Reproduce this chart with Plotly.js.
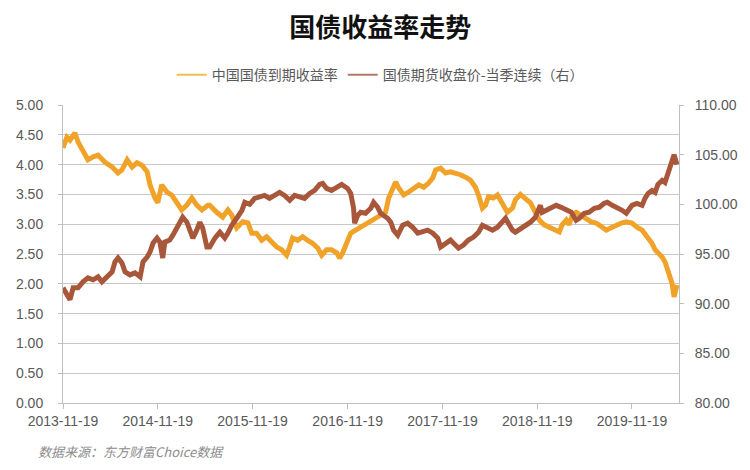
<!DOCTYPE html>
<html>
<head>
<meta charset="utf-8">
<script src="https://cdn.plot.ly/plotly-3.0.1.min.js"></script>
<style>html,body{margin:0;padding:0;background:#fff;}#chart{width:750px;height:470px;}</style>
</head>
<body>
<div id="chart"></div>
<script>
// 中国国债到期收益率 (left axis, %)
const yieldDates = ['2013-11-19','2013-12-04','2013-12-16','2014-01-04','2014-01-16','2014-02-04','2014-02-23','2014-03-15','2014-04-03','2014-04-30','2014-05-27','2014-06-19','2014-07-04','2014-07-24','2014-08-12','2014-08-31','2014-09-19','2014-10-09','2014-10-20','2014-11-08','2014-11-19','2014-12-04','2014-12-24','2015-01-12','2015-01-31','2015-02-19','2015-03-11','2015-03-30','2015-04-18','2015-05-08','2015-05-31','2015-06-07','2015-07-04','2015-07-27','2015-08-16','2015-08-31','2015-09-19','2015-10-01','2015-10-12','2015-11-01','2015-11-16','2015-12-04','2015-12-24','2016-01-12','2016-01-31','2016-02-19','2016-03-10','2016-03-29','2016-04-10','2016-04-21','2016-05-10','2016-05-30','2016-06-18','2016-07-07','2016-07-27','2016-08-11','2016-08-30','2016-09-18','2016-10-08','2016-10-19','2016-10-31','2016-11-19','2016-12-01','2016-12-20','2017-01-08','2017-01-27','2017-02-16','2017-03-07','2017-03-26','2017-04-14','2017-04-26','2017-05-11','2017-05-23','2017-06-03','2017-06-23','2017-07-12','2017-07-31','2017-08-20','2017-09-08','2017-09-27','2017-10-13','2017-10-24','2017-11-12','2017-12-01','2017-12-20','2018-01-08','2018-01-27','2018-02-16','2018-03-07','2018-03-26','2018-04-07','2018-04-22','2018-05-04','2018-05-15','2018-06-03','2018-06-19','2018-06-30','2018-07-12','2018-07-27','2018-08-16','2018-08-27','2018-09-15','2018-10-05','2018-10-24','2018-11-12','2018-11-27','2018-12-16','2019-01-04','2019-01-23','2019-02-12','2019-02-23','2019-03-11','2019-03-22','2019-04-03','2019-04-18','2019-05-08','2019-05-27','2019-06-15','2019-07-04','2019-07-24','2019-08-12','2019-08-31','2019-09-19','2019-10-09','2019-10-28','2019-11-19','2019-12-08','2019-12-28','2020-01-16','2020-02-04','2020-02-16','2020-02-27','2020-03-14','2020-03-25','2020-04-06','2020-04-21','2020-04-29','2020-05-07','2020-05-10'];
const yieldValues = [4.28,4.46,4.41,4.53,4.38,4.21,4.08,4.13,4.16,4.04,3.96,3.86,3.91,4.08,3.96,4.03,3.99,3.88,3.66,3.44,3.36,3.66,3.54,3.49,3.36,3.24,3.32,3.44,3.32,3.24,3.32,3.32,3.20,3.12,3.24,3.15,2.94,2.99,3.04,3.02,2.85,2.85,2.73,2.79,2.70,2.62,2.57,2.48,2.62,2.77,2.73,2.79,2.73,2.68,2.60,2.48,2.57,2.57,2.52,2.43,2.52,2.73,2.85,2.90,2.95,2.99,3.03,3.10,3.15,3.20,3.44,3.62,3.71,3.61,3.49,3.54,3.61,3.66,3.62,3.69,3.78,3.91,3.94,3.86,3.88,3.86,3.83,3.79,3.74,3.62,3.49,3.27,3.32,3.46,3.44,3.49,3.41,3.29,3.20,3.27,3.41,3.50,3.44,3.36,3.20,3.07,2.99,2.95,2.90,2.87,2.99,3.07,2.99,3.15,3.20,3.15,3.10,3.04,3.02,2.95,2.90,2.94,2.99,3.02,3.04,3.02,2.95,2.90,2.79,2.68,2.57,2.53,2.45,2.37,2.20,2.01,1.78,1.90,1.98];

// 国债期货收盘价-当季连续 (right axis)
const futDates = ['2013-11-19','2013-12-04','2013-12-16','2013-12-28','2014-01-16','2014-02-04','2014-02-23','2014-03-15','2014-04-03','2014-04-18','2014-05-08','2014-05-27','2014-06-07','2014-06-19','2014-07-04','2014-07-16','2014-08-04','2014-08-23','2014-09-12','2014-09-23','2014-10-09','2014-10-20','2014-11-01','2014-11-16','2014-11-27','2014-12-08','2014-12-16','2015-01-04','2015-01-16','2015-01-31','2015-02-12','2015-02-23','2015-03-11','2015-03-22','2015-04-03','2015-04-18','2015-04-30','2015-05-11','2015-05-27','2015-06-07','2015-06-27','2015-07-16','2015-08-04','2015-08-16','2015-08-31','2015-09-19','2015-10-09','2015-10-20','2015-11-08','2015-11-27','2015-12-16','2016-01-04','2016-01-23','2016-02-12','2016-03-02','2016-03-21','2016-04-10','2016-04-29','2016-05-18','2016-06-06','2016-06-26','2016-07-15','2016-08-03','2016-08-15','2016-08-30','2016-09-18','2016-10-08','2016-10-27','2016-11-19','2016-12-01','2016-12-12','2016-12-16','2016-12-28','2017-01-08','2017-01-27','2017-02-16','2017-02-27','2017-03-15','2017-03-26','2017-04-07','2017-04-22','2017-05-04','2017-05-15','2017-05-31','2017-06-19','2017-07-08','2017-07-27','2017-08-16','2017-09-04','2017-09-23','2017-10-13','2017-11-01','2017-11-12','2017-12-01','2017-12-20','2017-12-31','2018-01-20','2018-02-08','2018-02-27','2018-03-19','2018-04-07','2018-04-22','2018-05-11','2018-05-31','2018-06-19','2018-07-08','2018-07-20','2018-07-31','2018-08-16','2018-08-27','2018-09-15','2018-10-05','2018-10-24','2018-11-12','2018-11-19','2018-12-01','2018-12-08','2018-12-24','2019-01-12','2019-01-31','2019-02-19','2019-03-11','2019-03-30','2019-04-18','2019-04-30','2019-05-19','2019-06-07','2019-06-27','2019-07-16','2019-08-04','2019-08-16','2019-09-04','2019-09-23','2019-10-12','2019-10-28','2019-11-19','2019-12-08','2019-12-28','2020-01-08','2020-01-20','2020-02-04','2020-02-16','2020-02-27','2020-03-14','2020-03-25','2020-04-06','2020-04-21','2020-04-29','2020-05-10'];
const futValues = [91.6,90.9,90.4,91.6,91.6,92.2,92.6,92.4,92.7,92.2,92.7,93.2,94.2,94.6,94.1,93.2,92.9,93.1,92.7,94.2,94.7,95.2,96.1,96.6,96.2,94.6,96.2,96.4,96.9,97.6,98.2,98.7,98.2,97.4,96.6,97.4,98.2,97.6,95.7,95.7,96.6,97.2,96.6,97.1,97.9,98.6,99.4,100.2,100.0,100.6,100.7,100.9,100.6,100.9,101.2,100.9,100.4,100.9,100.7,100.6,101.1,101.4,102.0,102.1,101.6,101.4,101.7,102.0,101.6,101.1,99.6,98.1,98.9,99.2,99.1,99.6,100.2,99.7,99.1,98.9,98.6,98.2,97.4,96.9,97.9,98.1,97.7,97.1,97.2,97.4,97.1,96.6,95.7,96.1,96.4,96.1,95.6,95.9,96.4,96.7,97.2,97.9,97.6,97.4,97.7,98.2,98.6,98.1,97.4,97.2,97.5,97.8,98.2,98.7,99.2,99.9,99.2,99.4,99.7,99.9,99.7,99.4,99.2,98.4,98.6,99.1,99.2,99.6,99.7,100.1,100.2,99.9,99.7,99.4,99.1,99.9,100.1,99.9,100.6,101.1,101.4,101.2,102.0,102.4,102.2,103.2,104.5,105.0,104.0];

const xTickVals = ['2013-11-19','2014-11-19','2015-11-19','2016-11-19','2017-11-19','2018-11-19','2019-11-19'];
const xTickText = ['2013-11-19','2014-11-19','2015-11-19','2016-11-19','2017-11-19','2018-11-19','2019-11-19'];
const seriesNames = ['中国国债到期收益率','国债期货收盘价-当季连续（右）'];
const chartTitle = '国债收益率走势';
const sourceNote = '数据来源：东方财富Choice数据';

const tickFont = {family: 'Liberation Sans, Arial, sans-serif', size: 14, color: '#595959'};
const axisGray = '#bfbfbf';
const yellow = '#F0A229';
const brown = '#A8573B';

const traces = [
  {x: yieldDates, y: yieldValues, name: seriesNames[0], type: 'scatter', mode: 'lines',
   line: {color: yellow, width: 5}, yaxis: 'y', showlegend: false},
  {x: futDates, y: futValues, name: seriesNames[1], type: 'scatter', mode: 'lines',
   line: {color: brown, width: 5}, yaxis: 'y2', showlegend: false},
  // legend-only entries (thin keys as in the reference)
  {x: [null], y: [null], name: seriesNames[0], type: 'scatter', mode: 'lines',
   line: {color: '#F2BC52', width: 2}, yaxis: 'y', showlegend: true, hoverinfo: 'skip'},
  {x: [null], y: [null], name: seriesNames[1], type: 'scatter', mode: 'lines',
   line: {color: '#B07A66', width: 2}, yaxis: 'y2', showlegend: true, hoverinfo: 'skip'}
];

const layout = {
  width: 750, height: 470,
  margin: {l: 63, r: 71, t: 105, b: 67},
  paper_bgcolor: '#ffffff', plot_bgcolor: '#ffffff',
  font: {family: 'Noto Sans CJK SC, sans-serif', color: '#595959'},
  title: {text: chartTitle, x: 0.507, xanchor: 'center', y: 0.94, yanchor: 'middle',
    font: {family: 'Noto Sans CJK SC, sans-serif', size: 26, color: '#111111', weight: 'bold'}},
  showlegend: true,
  legend: {orientation: 'h', x: 0.515, xanchor: 'center', y: 1.10, yanchor: 'middle',
    font: {family: 'Noto Sans CJK SC, sans-serif', size: 14, color: '#595959'},
    itemwidth: 30, tracegroupgap: 0, bgcolor: 'rgba(0,0,0,0)'},
  xaxis: {type: 'date', range: ['2013-11-19', '2020-05-18'],
    tickmode: 'array', tickvals: xTickVals, ticktext: xTickText,
    showgrid: false, showline: true, linecolor: axisGray, linewidth: 1,
    ticks: 'outside', ticklen: 5, tickcolor: axisGray, tickfont: tickFont,
    zeroline: false, fixedrange: true},
  yaxis: {range: [0, 5], dtick: 0.5, tick0: 0, tickformat: '.2f',
    showgrid: true, gridcolor: '#c8c8c8', gridwidth: 1,
    showline: true, linecolor: axisGray, ticks: 'outside', ticklen: 4, tickcolor: axisGray,
    tickfont: tickFont, zeroline: false, ticklabelstandoff: 12},
  yaxis2: {range: [80, 110], dtick: 5, tick0: 80, tickformat: '.2f', overlaying: 'y', side: 'right',
    showgrid: false, showline: true, linecolor: axisGray, ticks: 'outside', ticklen: 4, tickcolor: axisGray,
    tickfont: tickFont, zeroline: false, ticklabelstandoff: 8},
  annotations: [{text: sourceNote, xref: 'paper', yref: 'paper', x: -0.044, y: -0.164,
    xanchor: 'left', yanchor: 'middle', showarrow: false,
    font: {family: 'Noto Sans CJK SC, sans-serif', size: 13, color: '#8c8c8c', style: 'italic'}}]
};

Plotly.newPlot('chart', traces, layout, {displayModeBar: false, staticPlot: true});
</script>
</body>
</html>
